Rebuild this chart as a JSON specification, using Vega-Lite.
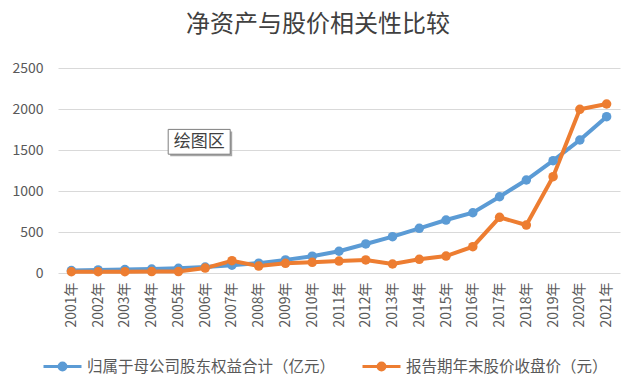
{
  "$schema": "https://vega.github.io/schema/vega-lite/v6.json",
  "width": 562,
  "height": 205,
  "autosize": {"type": "none"},
  "padding": {"left": 58, "top": 68, "right": 20, "bottom": 110},
  "background": "#ffffff",
  "title": {"text": "净资产与股价相关性比较", "fontSize": 24, "font": "Noto Sans CJK SC", "fontWeight": "normal", "color": "#404040", "anchor": "middle", "dx": -21, "offset": 24},
  "config": {
    "view": {"stroke": null},
    "font": "Noto Sans CJK SC"
  },
  "datasets": {
    "main": [
      {"year": "2001年", "series": "归属于母公司股东权益合计（亿元）", "value": 30},
      {"year": "2002年", "series": "归属于母公司股东权益合计（亿元）", "value": 38},
      {"year": "2003年", "series": "归属于母公司股东权益合计（亿元）", "value": 42},
      {"year": "2004年", "series": "归属于母公司股东权益合计（亿元）", "value": 48},
      {"year": "2005年", "series": "归属于母公司股东权益合计（亿元）", "value": 57},
      {"year": "2006年", "series": "归属于母公司股东权益合计（亿元）", "value": 72},
      {"year": "2007年", "series": "归属于母公司股东权益合计（亿元）", "value": 95},
      {"year": "2008年", "series": "归属于母公司股东权益合计（亿元）", "value": 120},
      {"year": "2009年", "series": "归属于母公司股东权益合计（亿元）", "value": 160},
      {"year": "2010年", "series": "归属于母公司股东权益合计（亿元）", "value": 205},
      {"year": "2011年", "series": "归属于母公司股东权益合计（亿元）", "value": 265},
      {"year": "2012年", "series": "归属于母公司股东权益合计（亿元）", "value": 354},
      {"year": "2013年", "series": "归属于母公司股东权益合计（亿元）", "value": 443},
      {"year": "2014年", "series": "归属于母公司股东权益合计（亿元）", "value": 545},
      {"year": "2015年", "series": "归属于母公司股东权益合计（亿元）", "value": 646},
      {"year": "2016年", "series": "归属于母公司股东权益合计（亿元）", "value": 735},
      {"year": "2017年", "series": "归属于母公司股东权益合计（亿元）", "value": 930},
      {"year": "2018年", "series": "归属于母公司股东权益合计（亿元）", "value": 1134},
      {"year": "2019年", "series": "归属于母公司股东权益合计（亿元）", "value": 1370},
      {"year": "2020年", "series": "归属于母公司股东权益合计（亿元）", "value": 1622},
      {"year": "2021年", "series": "归属于母公司股东权益合计（亿元）", "value": 1906},
      {"year": "2001年", "series": "报告期年末股价收盘价（元）", "value": 15},
      {"year": "2002年", "series": "报告期年末股价收盘价（元）", "value": 15},
      {"year": "2003年", "series": "报告期年末股价收盘价（元）", "value": 16},
      {"year": "2004年", "series": "报告期年末股价收盘价（元）", "value": 17},
      {"year": "2005年", "series": "报告期年末股价收盘价（元）", "value": 18},
      {"year": "2006年", "series": "报告期年末股价收盘价（元）", "value": 60},
      {"year": "2007年", "series": "报告期年末股价收盘价（元）", "value": 150},
      {"year": "2008年", "series": "报告期年末股价收盘价（元）", "value": 85},
      {"year": "2009年", "series": "报告期年末股价收盘价（元）", "value": 118},
      {"year": "2010年", "series": "报告期年末股价收盘价（元）", "value": 130},
      {"year": "2011年", "series": "报告期年末股价收盘价（元）", "value": 146},
      {"year": "2012年", "series": "报告期年末股价收盘价（元）", "value": 159},
      {"year": "2013年", "series": "报告期年末股价收盘价（元）", "value": 110},
      {"year": "2014年", "series": "报告期年末股价收盘价（元）", "value": 167},
      {"year": "2015年", "series": "报告期年末股价收盘价（元）", "value": 207},
      {"year": "2016年", "series": "报告期年末股价收盘价（元）", "value": 321},
      {"year": "2017年", "series": "报告期年末股价收盘价（元）", "value": 679},
      {"year": "2018年", "series": "报告期年末股价收盘价（元）", "value": 585},
      {"year": "2019年", "series": "报告期年末股价收盘价（元）", "value": 1175},
      {"year": "2020年", "series": "报告期年末股价收盘价（元）", "value": 1996},
      {"year": "2021年", "series": "报告期年末股价收盘价（元）", "value": 2061}
    ],
    "note": [
      {"year": "2006年", "value": 1600, "label": "绘图区"}
    ]
  },
  "encoding": {
    "x": {
      "field": "year", "type": "ordinal",
      "scale": {"type": "point", "padding": 0.5},
      "axis": {"title": null, "labelAngle": -90, "labelFontSize": 14, "labelColor": "#595959", "labelPadding": 9, "domain": false, "ticks": false, "grid": false, "labelFont": "Noto Sans CJK SC"}
    },
    "y": {
      "field": "value", "type": "quantitative",
      "scale": {"domain": [0, 2500], "nice": false},
      "axis": {"title": null, "values": [0, 500, 1000, 1500, 2000, 2500], "format": "d", "labelFontSize": 14, "labelColor": "#595959", "labelPadding": 15, "domain": false, "ticks": false, "gridColor": "#d9d9d9", "gridWidth": 1, "labelFont": "Noto Sans CJK SC"}
    }
  },
  "layer": [
    {
      "data": {"name": "main"},
      "mark": {"type": "line", "strokeWidth": 4},
      "encoding": {
        "color": {
          "field": "series", "type": "nominal",
          "scale": {"domain": ["归属于母公司股东权益合计（亿元）", "报告期年末股价收盘价（元）"], "range": ["#5b9bd5", "#ed7d31"]},
          "legend": {
            "title": null, "orient": "none", "legendX": -16, "legendY": 278, "direction": "horizontal",
            "gridAlign": "none",
            "symbolType": "M-1,0H1M0.18,0A0.18,0.18,0,1,1,-0.18,0A0.18,0.18,0,1,1,0.18,0Z",
            "symbolSize": 1444, "symbolStrokeWidth": 3,
            "labelFontSize": 15.5, "labelColor": "#595959", "labelFont": "Noto Sans CJK SC", "labelLimit": 400,
            "columnPadding": 20, "labelOffset": 4
          }
        }
      }
    },
    {
      "data": {"name": "main"},
      "mark": {"type": "circle", "size": 90, "opacity": 1},
      "encoding": {
        "color": {"field": "series", "type": "nominal"}
      }
    },
    {
      "data": {"name": "note"},
      "mark": {"type": "point", "shape": "M-1,-0.4H1V0.4H-1Z", "size": 3844, "filled": true, "fill": "#a6a6a6", "opacity": 1, "strokeWidth": 0, "xOffset": -4, "yOffset": 2}
    },
    {
      "data": {"name": "note"},
      "mark": {"type": "point", "shape": "M-1,-0.4H1V0.4H-1Z", "size": 3844, "filled": true, "fill": "#ffffff", "stroke": "#7f7f7f", "strokeWidth": 1, "opacity": 1, "xOffset": -6}
    },
    {
      "data": {"name": "note"},
      "mark": {"type": "text", "fontSize": 17, "color": "#404040", "font": "Noto Sans CJK SC", "xOffset": -6, "align": "center", "baseline": "middle"},
      "encoding": {"text": {"field": "label"}}
    }
  ]
}
